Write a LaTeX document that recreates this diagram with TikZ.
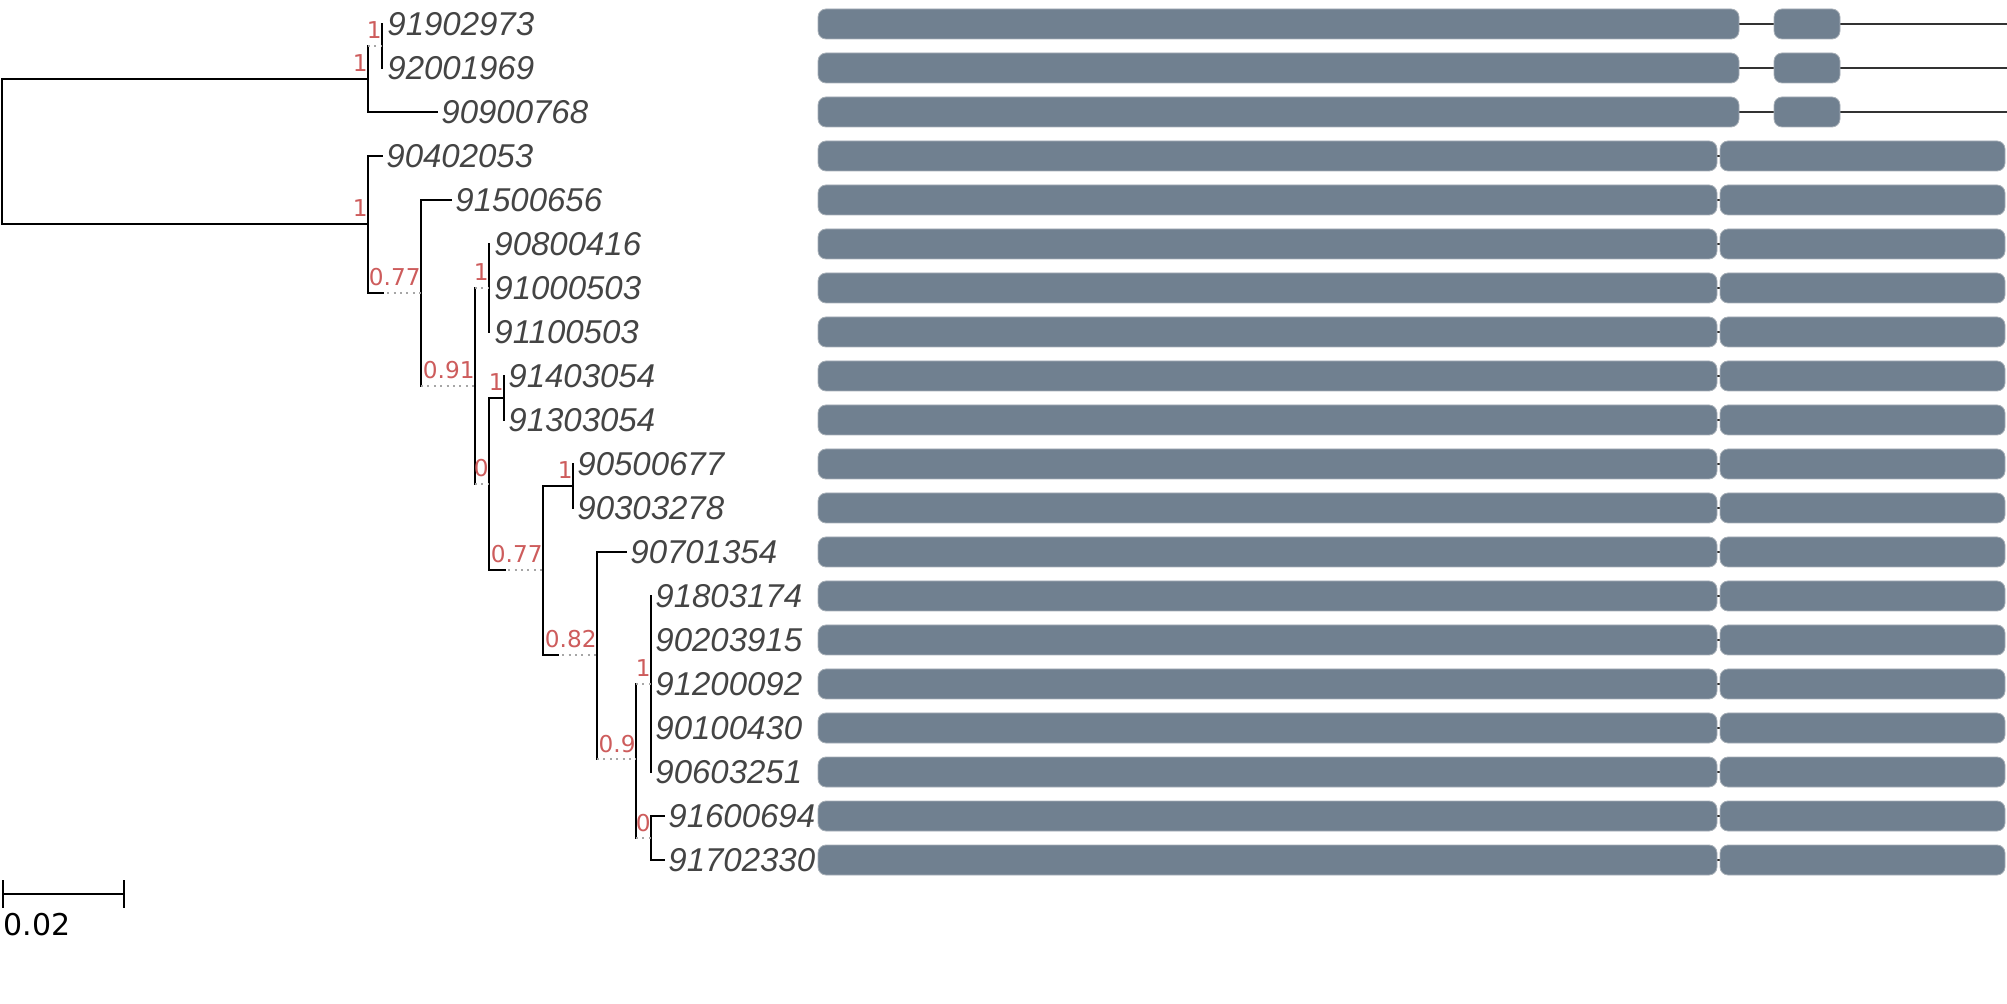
\documentclass[tikz,border=0pt]{standalone}
\usepackage{fontspec}
\newfontfamily\leaffont{Liberation Sans}
\newfontfamily\suppfont{DejaVu Sans}
\usetikzlibrary{calc}
\definecolor{suppred}{HTML}{CD5C5C}
\definecolor{exonfill}{HTML}{708090}
\definecolor{exonedge}{HTML}{A8B0B8}
\definecolor{leafgray}{HTML}{444444}
\tikzset{
  branch/.style={line width=1pt,line cap=rect},
  extra/.style={line width=0.8pt,gray!70,dash pattern=on 1pt off 2.2pt},
  leaf/.style={anchor=west,inner sep=0pt,text=leafgray,
    font=\leaffont\itshape\fontsize{16.5}{18}\selectfont},
  supp/.style={anchor=base east,inner sep=0pt,text=suppred,
    font=\suppfont\fontsize{11.6}{13}\selectfont},
  exon/.style={fill=exonfill,draw=exonedge,line width=0.4pt,rounded corners=4pt},
  intron/.style={line width=0.6pt,black!80}
}

\begin{document}
\begin{tikzpicture}[x=0.5pt,y=-0.5pt]
\useasboundingbox (0,0) rectangle (2007,1004);
% leaves
\foreach \lab/\x [count=\i from 0] in {91902973/387,92001969/387,90900768/441,
  90402053/386,91500656/455,90800416/494,91000503/494,91100503/494,
  91403054/508,91303054/508,90500677/577,90303278/577,90701354/630,
  91803174/655,90203915/655,91200092/655,90100430/655,90603251/655,
  91600694/668,91702330/668}
  \node[leaf] (t\i) at (\x,{24+44*\i}) {\lab};
% inner nodes
\coordinate (root) at (2,151.5);
\coordinate (nA) at (368,79);
\coordinate (nA1) at (382,46);
\coordinate (nB) at (368,224);
\coordinate (nB1) at (421,293);
\coordinate (nB2) at (475,386);
\coordinate (nB3) at (489,288);
\coordinate (nB4) at (489,484);
\coordinate (nB5) at (504,398);
\coordinate (nB6) at (543,570);
\coordinate (nB7) at (573,486);
\coordinate (nB8) at (597,655);
\coordinate (nB9) at (636,759);
\coordinate (nB10) at (651,684);
\coordinate (nB11) at (651,838);
% verticals
\foreach \n/\a/\b in {root/nA/nB,nA/nA1/t2,nA1/t0/t1,nB/t3/nB1,nB1/t4/nB2,
  nB2/nB3/nB4,nB3/t5/t7,nB4/nB5/nB6,nB5/t8/t9,nB6/nB7/nB8,nB7/t10/t11,
  nB8/t12/nB9,nB9/nB10/nB11,nB10/t13/t17,nB11/t18/t19}
  \draw[branch] (\n |- \a) -- (\n |- \b);
% branches to inner nodes
\draw[branch] (root |- nA) -- (nA);
\draw[branch] (root |- nB) -- (nB);
\foreach \c/\p/\s in {nA1/nA/0,nB1/nB/15,nB2/nB1/0,nB3/nB2/0,nB4/nB2/0,
  nB5/nB4/15,nB6/nB4/16,nB7/nB6/30,nB8/nB6/15,nB9/nB8/0,nB10/nB9/0,nB11/nB9/0}
{
  \draw[extra] (\p |- \c) -- (\c);
  \draw[branch] (\p |- \c) -- ++(\s,0);
}
% branches to leaves
\foreach \p/\t in {nA/t2,nB/t3,nB1/t4,nB8/t12,nB11/t18,nB11/t19}
  \draw[branch] (\p |- \t) -- ([xshift=-2pt]\t.west);
% support values
\foreach \n/\v in {nA1/1,nA/1,nB/1,nB1/0.77,nB2/0.91,nB3/1,nB4/0,nB5/1,
  nB6/0.77,nB7/1,nB8/0.82,nB9/0.9,nB10/1,nB11/0}
  \node[supp] (s-\n) at ([yshift=3.5pt]\n) {\v};
% gene structures
\foreach \i in {0,1,2}
{
  \draw[intron] (818,{24+44*\i}) -- (2007,{24+44*\i});
  \path[exon] (818,{9+44*\i}) rectangle (1739,{39+44*\i});
  \path[exon] (1774,{9+44*\i}) rectangle (1840,{39+44*\i});
}
\foreach \i in {3,...,19}
{
  \draw[intron] (1716,{24+44*\i}) -- (1721,{24+44*\i});
  \path[exon] (818,{9+44*\i}) rectangle (1717,{39+44*\i});
  \path[exon] (1720,{9+44*\i}) rectangle (2005,{39+44*\i});
}
% scale bar
\coordinate (sbl) at (3,894);
\coordinate (sbr) at (124,894);
\draw[branch] (sbl) -- (sbr);
\draw[branch] ([yshift=6.5pt]sbl) -- ([yshift=-6.5pt]sbl);
\draw[branch] ([yshift=6.5pt]sbr) -- ([yshift=-6.5pt]sbr);
\node[anchor=west,inner sep=0pt,font=\suppfont\fontsize{15}{17}\selectfont] (sbt) at (3,925) {0.02};
\end{tikzpicture}
\end{document}
